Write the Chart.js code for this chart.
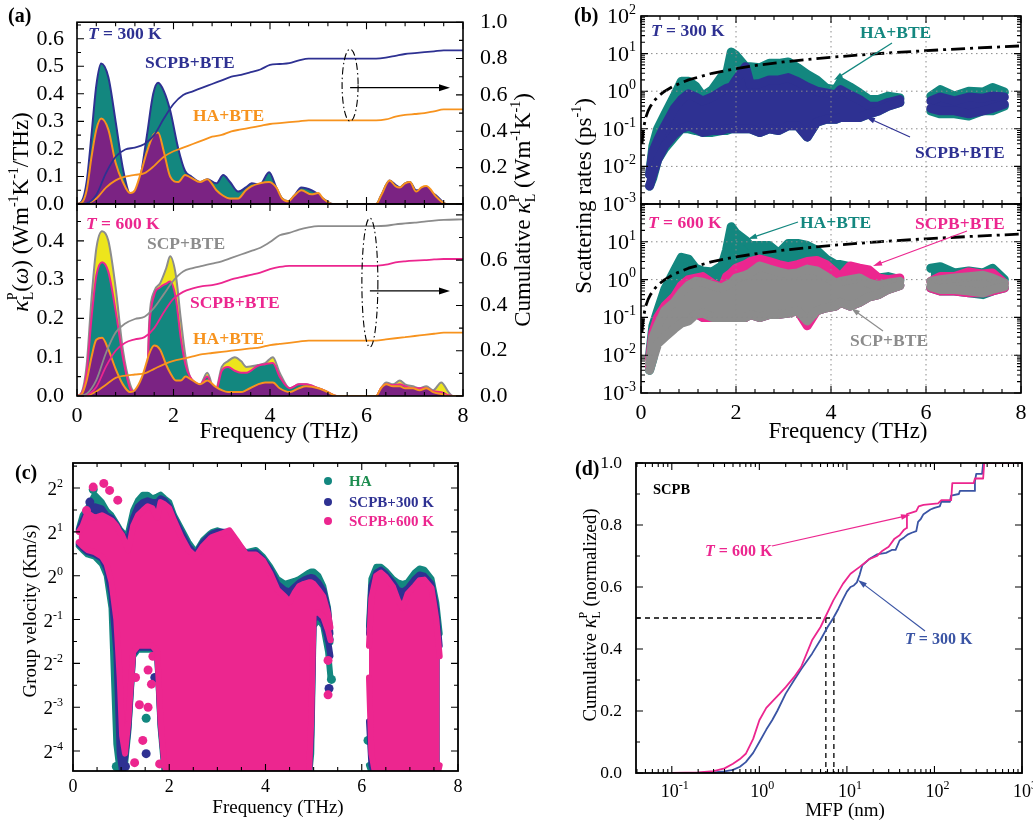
<!DOCTYPE html>
<html>
<head>
<meta charset="utf-8">
<title>Phonon transport panels</title>
<script src="https://cdn.jsdelivr.net/npm/chart.js"></script>
<style>
  body { margin: 0; background: #fff; }
  #wrap { position: relative; width: 1033px; height: 823px; overflow: hidden; }
  #wrap canvas { position: absolute; left: 0; top: 0; }
</style>
</head>
<body>
<div id="wrap">
  <canvas id="a1" width="1033" height="823"></canvas>
  <canvas id="a2" width="1033" height="823"></canvas>
  <canvas id="b1" width="1033" height="823"></canvas>
  <canvas id="b2" width="1033" height="823"></canvas>
  <canvas id="c" width="1033" height="823"></canvas>
  <canvas id="d" width="1033" height="823"></canvas>
</div>
<script>
// ---------- (a) spectral and cumulative kappa ----------
const spec300X = [0,0.1,0.2,0.3,0.4,0.5,0.65,0.8,0.95,1.1, 1.2,1.3,1.45,1.58,1.68,1.8,1.93,2.1,2.24,2.37, 2.55,2.7,2.89,3.03,3.17,3.34,3.5,3.62,3.79,3.98, 4.13,4.25,4.38,4.5,4.65,4.86,5.0,5.1,5.3,6.2, 6.3,6.48,6.6,6.69,6.8,6.9,7.03,7.14,7.24,7.45, 7.65,8];
const scpb300 = [0,0.01,0.08,0.25,0.43,0.51,0.46,0.3,0.13,0.03, 0.02,0.08,0.25,0.40,0.44,0.41,0.34,0.2,0.12,0.1, 0.08,0.09,0.075,0.105,0.08,0.045,0.06,0.075,0.07,0.115, 0.06,0.02,0.01,0.03,0.06,0.05,0.035,0.02,0,0, 0.03,0.085,0.07,0.06,0.075,0.08,0.05,0.05,0.05,0.03, 0,0];
const ha300 = [0,0.005,0.05,0.17,0.27,0.31,0.27,0.15,0.08,0.04, 0.05,0.1,0.19,0.25,0.26,0.19,0.1,0.08,0.105,0.095, 0.08,0.09,0.05,0.03,0.02,0.02,0.05,0.065,0.075,0.08, 0.06,0.02,0.01,0.03,0.05,0.035,0.04,0.02,0,0, 0.03,0.085,0.065,0.06,0.075,0.08,0.045,0.06,0.065,0.025, 0,0];

const spec600X = [0,0.1,0.2,0.3,0.4,0.52,0.65,0.8,0.95,1.1, 1.2,1.35,1.45,1.5,1.6,1.72,1.85,1.93,2.05,2.15, 2.25,2.34,2.55,2.7,2.86,3.0,3.13,3.27,3.4,3.51, 3.75,3.9,4.06,4.2,4.41,4.6,4.75,5.0,5.2,5.38, 6.2,6.3,6.41,6.55,6.69,6.8,6.96,7.1,7.24,7.38, 7.55,7.7,7.79,8];
const scp600 = [0,0.01,0.08,0.25,0.38,0.425,0.40,0.28,0.12,0.03, 0.01,0.01,0.04,0.2,0.27,0.29,0.33,0.36,0.31,0.2, 0.1,0.05,0.03,0.06,0.01,0.075,0.09,0.10,0.09,0.075, 0.08,0.085,0.10,0.06,0.02,0.03,0.03,0.02,0.01,0, 0,0.02,0.035,0.03,0.04,0.03,0.025,0.02,0.025,0.015, 0.035,0.01,0,0];
const scpb600 = [0,0.008,0.06,0.2,0.31,0.345,0.32,0.22,0.1,0.02, 0.01,0.01,0.035,0.18,0.26,0.28,0.29,0.295,0.25,0.15, 0.08,0.05,0.03,0.05,0.005,0.065,0.075,0.065,0.06,0.06, 0.078,0.082,0.085,0.05,0.02,0.03,0.03,0.02,0.01,0, 0,0.02,0.03,0.028,0.03,0.025,0.02,0.02,0.02,0.012, 0.01,0.002,0,0];
const ha600 = [0,0.005,0.04,0.1,0.145,0.15,0.12,0.07,0.03,0.01, 0.015,0.05,0.09,0.11,0.13,0.12,0.08,0.06,0.04,0.04, 0.05,0.045,0.03,0.04,0.025,0.015,0.01,0.01,0.01,0.015, 0.03,0.035,0.035,0.02,0.01,0.02,0.025,0.02,0.01,0, 0,0.02,0.03,0.025,0.025,0.02,0.02,0.015,0.02,0.01, 0.005,0,0,0];

const cumX = [0,0.2,0.4,0.6,0.8,1.0, 1.2,1.4,1.6,1.8,2.0, 2.2,2.4,2.6,2.8,3.0, 3.2,3.4,3.6,3.8,4.0, 4.2,4.4,4.6,4.8,5.0, 5.5,6.0,6.2, 6.4,6.6,6.8,7.0, 7.2,7.4,7.6, 8.0];
const cumScpb300 = [0,0.005,0.05,0.17,0.26,0.30, 0.31,0.33,0.38,0.47,0.55, 0.60,0.62,0.64,0.66,0.68, 0.70,0.71,0.725,0.74,0.765, 0.77,0.775,0.79,0.80,0.80, 0.80,0.80,0.80, 0.805,0.815,0.825,0.83, 0.835,0.84,0.845, 0.845];
const cumHa300 = [0,0.003,0.03,0.09,0.13,0.15, 0.16,0.17,0.21,0.26,0.29, 0.31,0.33,0.35,0.37,0.38, 0.40,0.41,0.42,0.43,0.44, 0.445,0.45,0.455,0.46,0.46, 0.46,0.46,0.46, 0.465,0.48,0.49,0.495, 0.50,0.51,0.52, 0.52];
const cumScp600 = [0,0.01,0.07,0.19,0.28,0.32, 0.34,0.35,0.39,0.45,0.51, 0.55,0.565,0.575,0.585,0.595, 0.61,0.625,0.64,0.655,0.68, 0.71,0.72,0.735,0.745,0.75, 0.75,0.75,0.75, 0.752,0.758,0.762,0.766, 0.77,0.775,0.778, 0.78];
const cumScpb600 = [0,0.005,0.04,0.13,0.20,0.235, 0.25,0.26,0.30,0.37,0.43, 0.46,0.475,0.485,0.49,0.50, 0.515,0.525,0.535,0.545,0.56, 0.57,0.575,0.575,0.575,0.575, 0.575,0.575,0.575, 0.58,0.59,0.595,0.598, 0.60,0.603,0.605, 0.605];
const cumHa600 = [0,0.002,0.02,0.05,0.08,0.09, 0.095,0.10,0.12,0.14,0.155, 0.165,0.175,0.185,0.19,0.195, 0.20,0.205,0.21,0.215,0.225, 0.23,0.235,0.24,0.245,0.245, 0.245,0.245,0.245, 0.25,0.255,0.26,0.265, 0.27,0.275,0.28, 0.28];

// ---------- (b) scattering rates: cloud envelopes ----------
const bX = [0.18,0.25,0.35,0.5,0.7,0.85,1.0,1.15,1.3,1.5, 1.7,1.8,1.9,2.0,2.2,2.3,2.5,2.7,2.9,3.1, 3.3,3.5,3.7,3.9,4.1,4.2,4.4,4.6,4.8,5.0, 5.2,5.45, 5.8, 6.1,6.3,6.6,6.9,7.2,7.4,7.65];
const ha300Hi = [0.006,0.035,0.1,0.24,0.74,1.85,1.85,1.36,0.74,1.1, 2.5,2.8,11,9,4.5,4.5,4.2,5.5,5.5,6, 4.2,2.8,2,1.2,1.1,1.8,1.3,0.9,0.6,0.6, 0.74,0.66, null, 0.74,1.1,0.74,1.0,0.95,1.25,0.95];
const ha300Lo = [0.003,0.005,0.015,0.03,0.06,0.1,0.1,0.09,0.08,0.08, 0.09,0.09,0.1,0.1,0.1,0.1,0.08,0.1,0.09,0.12, 0.12,0.06,0.15,0.18,0.18,0.2,0.2,0.2,0.25,0.3, 0.4,0.5, null, 0.3,0.25,0.25,0.22,0.3,0.3,0.4];
const scpb300Hi = [0.006,0.025,0.05,0.12,0.35,0.6,0.85,0.7,0.55,0.7, 1.0,1.2,1.3,2.0,4.5,1.5,1.6,2.0,2.0,2.3, 1.8,1.3,1.0,0.9,0.8,1.1,0.8,0.6,0.4,0.4, 0.5,0.6, null, 0.55,0.7,0.55,0.7,0.65,0.75,0.7];
const scpb300Lo = [0.003,0.006,0.015,0.035,0.07,0.1,0.12,0.1,0.08,0.09, 0.09,0.1,0.1,0.1,0.1,0.1,0.08,0.1,0.09,0.12, 0.12,0.06,0.15,0.18,0.18,0.2,0.2,0.2,0.25,0.3, 0.4,0.5, null, 0.35,0.3,0.3,0.25,0.3,0.35,0.45];
const ha600Hi = [0.01,0.06,0.15,0.55,1.7,3.9,3.5,2.0,1.7,1.6, 2.3,6,25,17,11,8,8,8,5,9, 9,8,6,3.5,2.5,2.5,2.2,1.8,1.5,1.1, 1.2,1.0, null, 2.0,2.2,1.5,1.7,1.5,2.0,1.0];
const ha600Lo = [0.004,0.008,0.03,0.05,0.07,0.09,0.12,0.13,0.1,0.1, 0.1,0.1,0.1,0.1,0.1,0.12,0.1,0.12,0.12,0.13, 0.15,0.08,0.15,0.18,0.2,0.25,0.2,0.25,0.35,0.4, 0.55,0.7, null, 0.6,0.5,0.5,0.45,0.4,0.5,0.6];
const scpb600Hi = [0.008,0.04,0.1,0.2,0.35,0.7,1.0,1.1,1.2,0.8, 0.6,1.2,1.5,2,2.5,3,3.5,3,2.5,2.2, 2.5,3,3.2,2.5,1.5,1.2,2.3,2.0,1.8,1.1, 1.0,1.1, null, 0.9,1.2,1.2,1.6,1.4,1.5,0.8];
const scpb600Lo = [0.005,0.01,0.03,0.05,0.07,0.09,0.12,0.13,0.1,0.1, 0.1,0.1,0.1,0.1,0.1,0.12,0.1,0.12,0.12,0.13, 0.15,0.06,0.15,0.18,0.2,0.25,0.2,0.25,0.35,0.4, 0.55,0.7, null, 0.6,0.5,0.5,0.45,0.45,0.5,0.6];
const scp600Hi = [0.006,0.03,0.06,0.15,0.25,0.45,0.7,0.9,0.85,0.7, 0.6,0.7,0.8,1.1,1.3,1.5,2.3,1.9,1.6,1.4, 1.5,1.9,1.7,1.2,0.8,0.9,1.0,1.1,0.8,0.7, 0.8,0.9, null, 0.9,1.0,1.1,1.2,1.3,1.1,0.8];
const scp600Lo = [0.004,0.008,0.02,0.03,0.05,0.07,0.08,0.12,0.13,0.1, 0.1,0.1,0.1,0.1,0.1,0.12,0.1,0.12,0.12,0.13, 0.15,0.08,0.15,0.18,0.2,0.25,0.2,0.25,0.35,0.4, 0.55,0.7, null, 0.65,0.55,0.55,0.5,0.45,0.55,0.65];
const limitX = [0.02,0.05,0.1,0.15,0.2,0.3,0.4,0.5,0.7,1.0,1.5,2.0,2.5,3.0,4.0,5.0,6.0,7.0,8.0];
const limitY = [0.04,0.1,0.2,0.3,0.4,0.6,0.8,1.0,1.4,2.0,3.0,4.0,5.0,6.0,8.0,10,12,14,16];
const decades = [1e-3,1e-2,1e-1,1,10,100];

// ---------- (c) group velocity: cloud envelopes ----------
const cX = [0.12,0.2,0.3,0.45,0.6,0.7,0.8,0.9,0.97,1.02, 1.08,1.15,1.25,1.35,1.45,1.55,1.65,1.75,1.82,1.9, 2.0,2.1,2.25,2.4,2.55,2.7,2.85,2.9,3.0,3.1, 3.25,3.4,3.6,3.8,3.95,4.1,4.25,4.4,4.5,4.6, 4.7,4.8,4.9,4.95,5.0,5.1,5.2,5.3,5.35, 5.8, 6.15,6.2,6.3,6.4,6.5,6.65,6.75,6.85,6.95,7.1, 7.2,7.3,7.45,7.55,7.62];
const haHi = [2.1,2.6,2.9,3.6,3.2,2.8,2.6,2.3,2.1,2.0, 1.9,2.0,2.8,3.3,3.6,3.6,3.4,3.5,3.6,3.4, 3.2,2.6,2.1,1.7,1.45,1.75,1.95,2.0,2.05,2.0, 1.8,1.6,1.45,1.5,1.35,1.15,0.95,0.88,0.9,0.92, 0.95,1.0,1.05,1.07,1.07,1.0,0.85,0.6,0.35, null, 0.45,0.95,1.15,1.15,1.08,0.95,0.9,0.88,0.9,1.05, 1.12,1.1,0.95,0.65,0.4];
const haLo = [1.6,1.5,1.4,1.35,1.2,1.0,0.6,0.07,0.045,0.045, 0.05,0.085,0.28,0.31,0.31,0.31,0.31,0.28,0.09,0.045, 0.04,0.04,0.04,0.04,0.04,0.04,0.04,0.04,0.04,0.04, 0.04,0.04,0.04,0.04,0.04,0.04,0.04,0.04,0.04,0.04, 0.04,0.04,0.04,0.06,0.45,0.5,0.45,0.3,0.2, null, 0.05,0.045,0.04,0.04,0.04,0.04,0.04,0.04,0.04,0.04, 0.04,0.04,0.04,0.04,0.04];
const v300Hi = [2.05,2.4,2.8,3.0,2.9,2.6,2.5,2.25,2.05,1.95, 1.8,1.8,2.5,3.0,3.2,3.3,3.2,3.2,3.4,3.3, 3.0,2.5,2.0,1.6,1.4,1.7,1.9,1.95,2.0,2.0, 2.0,1.7,1.42,1.45,1.3,1.1,0.88,0.8,0.78,0.84, 0.9,0.94,0.97,0.98,0.97,0.9,0.8,0.58,0.4, null, 0.4,0.85,1.05,1.1,1.03,0.9,0.8,0.78,0.82,0.95, 1.02,1.0,0.88,0.58,0.33];
const v300Lo = [1.65,1.55,1.45,1.4,1.3,1.1,0.75,0.3,0.06,0.045, 0.055,0.09,0.29,0.32,0.32,0.32,0.32,0.29,0.095,0.05, 0.04,0.04,0.04,0.04,0.04,0.04,0.04,0.04,0.04,0.04, 0.04,0.04,0.04,0.04,0.04,0.04,0.04,0.04,0.04,0.04, 0.04,0.04,0.04,0.08,0.5,0.53,0.48,0.36,0.28, null, 0.1,0.05,0.04,0.04,0.04,0.04,0.04,0.04,0.04,0.04, 0.04,0.04,0.04,0.04,0.04];
const v600Hi = [2.0,2.2,2.7,2.5,2.6,2.5,2.4,2.2,2.0,1.9, 1.7,1.5,2.2,2.6,2.8,3.0,2.9,2.5,3.2,3.1, 2.9,2.4,1.85,1.5,1.35,1.6,1.8,1.85,1.9,1.95, 2.05,1.75,1.4,1.4,1.27,1.04,0.8,0.72,0.66,0.76, 0.85,0.88,0.9,0.9,0.88,0.8,0.72,0.55,0.44, null, 0.33,0.7,1.0,1.05,0.98,0.84,0.68,0.6,0.75,0.85, 0.93,0.94,0.82,0.5,0.28];
const v600Lo = [1.7,1.6,1.5,1.45,1.35,1.2,0.9,0.5,0.2,0.08, 0.06,0.1,0.3,0.33,0.33,0.33,0.33,0.3,0.1,0.05, 0.04,0.04,0.04,0.04,0.04,0.04,0.04,0.04,0.04,0.04, 0.04,0.04,0.04,0.04,0.04,0.04,0.04,0.04,0.04,0.04, 0.04,0.04,0.04,0.1,0.55,0.56,0.52,0.42,0.36, null, 0.2,0.06,0.04,0.04,0.04,0.04,0.04,0.04,0.04,0.04, 0.04,0.04,0.04,0.04,0.05];
const haDotX = [0.42,0.9,1.52,5.37,6.13,6.7];
const haDotY = [3.9,0.049,0.105,0.194,0.074,0.06];
const v300DotX = [0.35,1.09,1.52,4.79,4.79,5.32,5.32,1.7];
const v300DotY = [3.2,0.049,0.06,0.082,0.06,0.168,0.366,0.2];
const v600DotX = [0.28,0.42,0.64,0.76,0.93,1.28,1.45,1.56,1.56,1.63,1.66,1.8,5.3,5.3,3.22,1.3,1.38];
const v600DotY = [2.8,4.06,4.3,3.85,3.3,0.052,0.074,0.225,0.125,0.18,0.28,0.051,0.152,0.262,1.96,0.2,0.13];
const octaves = [0.0625,0.125,0.25,0.5,1,2,4];

// ---------- (d) cumulative kappa vs MFP ----------
const mfp300X = [0.1,0.2,0.3,0.4,0.5,0.6,0.7,0.85,1.0,1.2, 1.4,1.6,2.0,2.5,3.0,4.0,5.0,6.0,7.0,8.0, 9.0,10,11,12,13,14,15,18,22,28, 33,36,40,45,50,55,62,65,70,75, 90,100,115,120,150,155,190,195,285,290, 300,350,360,1000];
const mfp300Y = [0,0.0005,0.002,0.005,0.01,0.02,0.035,0.065,0.1,0.14, 0.17,0.2,0.256,0.30,0.335,0.385,0.43,0.47,0.50,0.53, 0.56,0.585,0.60,0.605,0.615,0.64,0.67,0.69,0.705,0.71, 0.72,0.72,0.75,0.76,0.77,0.775,0.78,0.81,0.82,0.835, 0.85,0.855,0.86,0.875,0.875,0.895,0.9,0.91,0.91,0.94, 0.965,0.965,1.0,1.0];
const mfp600X = [0.1,0.2,0.3,0.4,0.5,0.6,0.7,0.85,1.0,1.2, 1.4,1.7,2.0,2.5,3.0,4.0,5.0,5.6,7.0,9.0, 11,14,18,22,25,30,35,40,45,48, 48.5,55,62,66,75,110,120,155,160,280, 290,360,370,1000];
const mfp600Y = [0,0.002,0.006,0.015,0.03,0.045,0.062,0.11,0.17,0.21, 0.23,0.255,0.277,0.31,0.342,0.428,0.471,0.5,0.557,0.61, 0.643,0.665,0.69,0.70,0.715,0.73,0.756,0.767,0.785,0.79, 0.835,0.84,0.845,0.86,0.865,0.87,0.88,0.88,0.935,0.935, 0.95,0.95,1.0,1.0];
const halfX = [0.039,7.1,7.1];
const halfY = [0.5,0.5,0];
const half600X = [5.75,5.75];
const half600Y = [0.5,0];
const mfpDecades = [0.1,1,10,100,1000];

// ---------- style ----------
const FONT = "'Liberation Serif', 'Times New Roman', serif";
Chart.defaults.font.family = FONT;
Chart.defaults.color = '#000';
const NAVY = '#2e3192', TEAL = '#13877f', PURPLE = '#7b2383', ORANGE = '#f7931e',
      YELLOW = '#ede51c', GRAY = '#8c8c8c', PINK = '#ec268f', BLUE = '#3a54a4', GREEN = '#1d8d50';

const xy = (xs, ys) => xs.map((x, i) => ({ x: x, y: ys[i] }));
const seq = (a, b, d) => { const r = []; for (let i = 0; a + i * d <= b + 1e-9; i++) r.push(+(a + i * d).toFixed(6)); return r; };
const logMinor = (e0, e1) => { const r = []; for (let e = e0; e < e1; e++) for (let k = 2; k < 10; k++) r.push(k * Math.pow(10, e)); return r; };
const fnt = (s, f) => (f && f.includes('i') ? 'italic ' : '') + (f && f.includes('b') ? 'bold ' : '') + s + 'px ' + FONT;

// list of [text, size, flags, dy, noAdvance]
function runs(ctx, list, x, y, align, rot, color) {
  ctx.save();
  ctx.translate(x, y);
  if (rot) ctx.rotate(rot);
  ctx.textBaseline = 'alphabetic';
  ctx.textAlign = 'left';
  let w = 0;
  const ws = list.map(r => { ctx.font = fnt(r[1], r[2]); const m = ctx.measureText(r[0]).width; if (!r[4]) w += m; return m; });
  let cx = align === 'center' ? -w / 2 : align === 'right' ? -w : 0;
  list.forEach((r, i) => {
    ctx.font = fnt(r[1], r[2]);
    ctx.fillStyle = color || '#000';
    ctx.fillText(r[0], cx, r[3] || 0);
    if (!r[4]) cx += ws[i];
  });
  ctx.restore();
}
const bold = (ctx, s, x, y, size, color) => runs(ctx, [[s, size, 'b']], x, y, 'left', 0, color);
const tLabel = (ctx, temp, x, y, size, color) => runs(ctx, [['T', size, 'bi'], [' = ' + temp, size, 'b']], x, y, 'left', 0, color);
const pow = (ctx, base, e, x, y, s1, s2, align) => runs(ctx, [[base, s1, ''], [e, s2, '', -s1 * 0.42]], x, y, align);

function arrow(ctx, x1, y1, x2, y2, color, lw, h) {
  const a = Math.atan2(y2 - y1, x2 - x1);
  ctx.save();
  ctx.strokeStyle = color; ctx.fillStyle = color; ctx.lineWidth = lw;
  ctx.beginPath(); ctx.moveTo(x1, y1); ctx.lineTo(x2 - Math.cos(a) * h * 0.8, y2 - Math.sin(a) * h * 0.8); ctx.stroke();
  ctx.beginPath();
  ctx.moveTo(x2, y2);
  ctx.lineTo(x2 - h * Math.cos(a) + h * 0.32 * Math.sin(a), y2 - h * Math.sin(a) - h * 0.32 * Math.cos(a));
  ctx.lineTo(x2 - h * Math.cos(a) - h * 0.32 * Math.sin(a), y2 - h * Math.sin(a) + h * 0.32 * Math.cos(a));
  ctx.closePath(); ctx.fill();
  ctx.restore();
}

// frame with inward ticks on all four sides
function frame(chart, xs, yl, yr, lw) {
  const ctx = chart.ctx, a = chart.chartArea;
  ctx.save();
  ctx.strokeStyle = '#000';
  ctx.lineWidth = 1.1;
  ctx.beginPath();
  const tk = (spec, side) => {
    const sc = spec[0];
    [[spec[1], 7], [spec[2], 4]].forEach(([vals, len]) => vals.forEach(v => {
      const p = sc.getPixelForValue(v);
      if (side === 'x') {
        if (p < a.left - 0.5 || p > a.right + 0.5) return;
        ctx.moveTo(p, a.bottom); ctx.lineTo(p, a.bottom - len);
        ctx.moveTo(p, a.top); ctx.lineTo(p, a.top + len);
      } else {
        if (p < a.top - 0.5 || p > a.bottom + 0.5) return;
        if (side !== 'r') { ctx.moveTo(a.left, p); ctx.lineTo(a.left + len, p); }
        if (side !== 'l') { ctx.moveTo(a.right, p); ctx.lineTo(a.right - len, p); }
      }
    }));
  };
  tk(xs, 'x');
  if (yr) { tk(yl, 'l'); tk(yr, 'r'); } else tk(yl, 'lr');
  ctx.stroke();
  ctx.lineWidth = lw || 1.6;
  ctx.strokeRect(a.left, a.top, a.right - a.left, a.bottom - a.top);
  ctx.restore();
}

function dotGrid(chart, xv, yv) {
  const ctx = chart.ctx, a = chart.chartArea, s = chart.scales;
  ctx.save();
  ctx.setLineDash([1.5, 3.5]);
  ctx.strokeStyle = '#8a8a8a';
  ctx.lineWidth = 1;
  ctx.beginPath();
  xv.forEach(v => { const p = s.x.getPixelForValue(v); ctx.moveTo(p, a.top); ctx.lineTo(p, a.bottom); });
  yv.forEach(v => { const p = s.y.getPixelForValue(v); ctx.moveTo(a.left, p); ctx.lineTo(a.right, p); });
  ctx.stroke();
  ctx.restore();
}

function ring(chart, xv, y0, y1, sy, xEnd, yArrow) {
  const ctx = chart.ctx, px = chart.scales.x.getPixelForValue(xv);
  const p0 = sy.getPixelForValue(y0), p1 = sy.getPixelForValue(y1);
  ctx.save();
  ctx.setLineDash([7, 3, 1.5, 3]);
  ctx.lineWidth = 1.1;
  ctx.strokeStyle = '#000';
  ctx.beginPath();
  ctx.ellipse(px, (p0 + p1) / 2, 8, Math.abs(p1 - p0) / 2, 0, 0, 2 * Math.PI);
  ctx.stroke();
  ctx.restore();
  const pa = sy.getPixelForValue(yArrow);
  arrow(ctx, px, pa, chart.scales.x.getPixelForValue(xEnd), pa, '#000', 1.2, 11);
}

// axes get a fixed box size so the plot areas line up exactly
const axis = (extra, size) => Object.assign({
  grid: { display: false }, border: { display: false },
  afterFit: s => { if (s.isHorizontal()) s.height = size; else s.width = size; }
}, extra);
// sides: sizes of the axis boxes on left / right / bottom
function baseOpts(area, scales, sides) {
  return {
    responsive: false, animation: false, events: [], devicePixelRatio: 1,
    layout: { padding: { left: area[0] - (sides.left || 0), top: area[1], right: 1033 - area[2] - (sides.right || 0), bottom: 823 - area[3] - (sides.bottom || 0) } },
    plugins: { legend: { display: false }, tooltip: { enabled: false } },
    elements: { point: { radius: 0 }, line: { borderJoinStyle: 'round', borderCapStyle: 'round' } },
    scales: scales
  };
}
const fix1 = v => v.toFixed(1);

function spec(xs, ys, line, fillColor, order, axisId) {
  return { data: xy(xs, ys), yAxisID: axisId || 'y', borderColor: line, backgroundColor: fillColor || line,
           fill: fillColor ? 'origin' : false, borderWidth: fillColor ? 2 : 1.8, cubicInterpolationMode: 'monotone', order: order, clip: 0 };
}
function band(xs, lo, hi, color, w, order) {
  const common = { borderColor: color, backgroundColor: color, borderWidth: w, pointRadius: 0, order: order, clip: 0, spanGaps: false };
  return [Object.assign({ data: xy(xs, lo), fill: false }, common), Object.assign({ data: xy(xs, hi), fill: '-1' }, common)];
}
function dots(xs, ys, color, order) {
  return { data: xy(xs, ys), showLine: false, pointRadius: 4.5, pointBackgroundColor: color, pointBorderWidth: 0, order: order, clip: 0 };
}

// ---------- (a) top: 300 K ----------
new Chart(document.getElementById('a1'), {
  type: 'line',
  data: { datasets: [
    spec(cumX, cumScpb300, NAVY, null, 1, 'y2'),
    spec(cumX, cumHa300, ORANGE, null, 1, 'y2'),
    spec(spec300X, ha300, ORANGE, PURPLE, 2),
    spec(spec300X, scpb300, NAVY, TEAL, 3)
  ] },
  options: baseOpts([77, 15, 463, 204], {
    x: axis({ type: 'linear', min: 0, max: 8, ticks: { display: false } }, 0),
    y: axis({ min: 0, max: 0.66, ticks: { stepSize: 0.1, includeBounds: false, padding: 5, autoSkip: false, font: { size: 22 }, callback: fix1 } }, 60),
    y2: axis({ position: 'right', min: 0, max: 1.0, ticks: { stepSize: 0.2, padding: 9, autoSkip: false, font: { size: 22 }, callback: fix1 } }, 60)
  }, { left: 60, right: 60 }),
  plugins: [{ id: 'decoA1', afterDraw(c) {
    const ctx = c.ctx, s = c.scales;
    frame(c, [s.x, seq(0, 8, 2), seq(0, 8, 0.4)], [s.y, seq(0, 0.6, 0.1), seq(0, 0.65, 0.05)], [s.y2, seq(0, 1, 0.2), seq(0, 1, 0.1)]);
    ring(c, 5.66, 0.455, 0.852, s.y2, 7.73, 0.64);
    tLabel(ctx, '300 K', 88, 39, 17.5, NAVY);
    bold(ctx, 'SCPB+BTE', 145, 68, 17.5, NAVY);
    bold(ctx, 'HA+BTE', 193, 121, 17.5, ORANGE);
    bold(ctx, '(a)', 8, 22, 20, '#000');
    runs(ctx, [['κ', 24, 'i'], ['P', 14, '', -11, true], ['L', 14, '', 5], ['(', 23, ''], ['ω', 23, 'i'], [') (Wm', 23, ''], ['-1', 14, '', -10], ['K', 23, ''], ['-1', 14, '', -10], ['/THz)', 23, '']], 28, 212, 'center', -Math.PI / 2);
    runs(ctx, [['Cumulative ', 23, ''], ['κ', 24, 'i'], ['P', 14, '', -11, true], ['L', 14, '', 5], [' (Wm', 23, ''], ['-1', 14, '', -10], ['K', 23, ''], ['-1', 14, '', -10], [')', 23, '']], 530, 210, 'center', -Math.PI / 2);
  } }]
});

// ---------- (a) bottom: 600 K ----------
new Chart(document.getElementById('a2'), {
  type: 'line',
  data: { datasets: [
    spec(cumX, cumScp600, GRAY, null, 1, 'y2'),
    spec(cumX, cumScpb600, PINK, null, 1, 'y2'),
    spec(cumX, cumHa600, ORANGE, null, 1, 'y2'),
    spec(spec600X, ha600, ORANGE, PURPLE, 2),
    spec(spec600X, scpb600, PINK, TEAL, 3),
    spec(spec600X, scp600, GRAY, YELLOW, 4)
  ] },
  options: baseOpts([77, 204, 463, 396], {
    x: axis({ type: 'linear', min: 0, max: 8, ticks: { stepSize: 2, padding: -1, font: { size: 22 } } }, 36),
    y: axis({ min: 0, max: 0.495, ticks: { stepSize: 0.1, includeBounds: false, padding: 5, autoSkip: false, font: { size: 22 }, callback: fix1 } }, 60),
    y2: axis({ position: 'right', min: 0, max: 0.848, ticks: { stepSize: 0.2, includeBounds: false, padding: 9, autoSkip: false, font: { size: 22 }, callback: v => v > 0.7 ? null : fix1(v) } }, 60)
  }, { left: 60, right: 60, bottom: 36 }),
  plugins: [{ id: 'decoA2', afterDraw(c) {
    const ctx = c.ctx, s = c.scales;
    frame(c, [s.x, seq(0, 8, 2), seq(0, 8, 0.4)], [s.y, seq(0, 0.4, 0.1), seq(0, 0.45, 0.05)], [s.y2, seq(0, 0.8, 0.2), seq(0, 0.8, 0.1)]);
    ring(c, 6.07, 0.216, 0.786, s.y2, 7.73, 0.464);
    tLabel(ctx, '600 K', 86, 229, 17.5, PINK);
    bold(ctx, 'SCP+BTE', 147, 249, 17.5, GRAY);
    bold(ctx, 'SCPB+BTE', 190, 308, 17.5, PINK);
    bold(ctx, 'HA+BTE', 193, 344, 17.5, ORANGE);
    runs(ctx, [['Frequency (THz)', 23, '']], 279, 438, 'center');
  } }]
});

// ---------- (b) top: 300 K ----------
new Chart(document.getElementById('b1'), {
  type: 'line',
  data: { datasets: [
    { data: xy(limitX, limitY), borderColor: '#000', borderWidth: 2.8, borderDash: [14, 5, 3, 5], borderCapStyle: 'butt', order: 0, clip: 0 },
    ...band(bX, scpb300Lo, scpb300Hi, NAVY, 9, 1),
    ...band(bX, ha300Lo, ha300Hi, TEAL, 9, 2)
  ] },
  options: baseOpts([641, 16, 1021, 204], {
    x: axis({ type: 'linear', min: 0, max: 8, ticks: { display: false } }, 0),
    y: axis({ type: 'logarithmic', min: 1e-3, max: 1e2, ticks: { display: false } }, 0)
  }, {}),
  plugins: [{ id: 'decoB1', afterDraw(c) {
    const ctx = c.ctx, s = c.scales, a = c.chartArea;
    dotGrid(c, [2, 4, 6], [1e-2, 1e-1, 1, 10]);
    frame(c, [s.x, seq(0, 8, 2), seq(0, 8, 0.4)], [s.y, decades, logMinor(-3, 2)]);
    decades.forEach(v => pow(ctx, '10', String(Math.round(Math.log10(v))), a.left - 5, s.y.getPixelForValue(v) + 7, 22, 14, 'right'));
    tLabel(ctx, '300 K', 651, 36, 17.5, NAVY);
    bold(ctx, 'HA+BTE', 860, 38, 17.5, TEAL);
    arrow(ctx, 892, 43, 834, 80, TEAL, 1.2, 9);
    bold(ctx, 'SCPB+BTE', 915, 158, 17.5, NAVY);
    arrow(ctx, 910, 137, 866, 117, NAVY, 1.2, 9);
    bold(ctx, '(b)', 574, 22, 20, '#000');
    runs(ctx, [['Scattering rates (ps', 23, ''], ['-1', 14, '', -10], [')', 23, '']], 591, 196, 'center', -Math.PI / 2);
  } }]
});

// ---------- (b) bottom: 600 K ----------
new Chart(document.getElementById('b2'), {
  type: 'line',
  data: { datasets: [
    { data: xy(limitX, limitY), borderColor: '#000', borderWidth: 2.8, borderDash: [14, 5, 3, 5], borderCapStyle: 'butt', order: 0, clip: 0 },
    ...band(bX, scp600Lo, scp600Hi, GRAY, 9, 1),
    ...band(bX, scpb600Lo, scpb600Hi, PINK, 9, 2),
    ...band(bX, ha600Lo, ha600Hi, TEAL, 9, 3)
  ] },
  options: baseOpts([641, 204, 1021, 393], {
    x: axis({ type: 'linear', min: 0, max: 8, ticks: { stepSize: 2, padding: -1, font: { size: 22 } } }, 36),
    y: axis({ type: 'logarithmic', min: 1e-3, max: 1e2, ticks: { display: false } }, 0)
  }, { bottom: 36 }),
  plugins: [{ id: 'decoB2', afterDraw(c) {
    const ctx = c.ctx, s = c.scales, a = c.chartArea;
    dotGrid(c, [2, 4, 6], [1e-2, 1e-1, 1, 10]);
    frame(c, [s.x, seq(0, 8, 2), seq(0, 8, 0.4)], [s.y, decades, logMinor(-3, 2)]);
    decades.slice(0, 5).forEach(v => pow(ctx, '10', String(Math.round(Math.log10(v))), a.left - 5, s.y.getPixelForValue(v) + 7, 22, 14, 'right'));
    tLabel(ctx, '600 K', 648, 228, 17.5, PINK);
    bold(ctx, 'HA+BTE', 800, 228, 17.5, TEAL);
    arrow(ctx, 798, 222, 748, 239, TEAL, 1.2, 9);
    bold(ctx, 'SCPB+BTE', 915, 229, 17.5, PINK);
    arrow(ctx, 967, 231, 873, 266, PINK, 1.2, 9);
    bold(ctx, 'SCP+BTE', 850, 346, 17.5, GRAY);
    arrow(ctx, 883, 331, 851, 308, GRAY, 1.2, 9);
    runs(ctx, [['Frequency (THz)', 23, '']], 848, 438, 'center');
  } }]
});

// ---------- (c) group velocity ----------
new Chart(document.getElementById('c'), {
  type: 'line',
  data: { datasets: [
    ...band(cX, v600Lo, v600Hi, PINK, 6, 1),
    dots(v600DotX, v600DotY, PINK, 1),
    ...band(cX, v300Lo, v300Hi, NAVY, 6, 2),
    dots(v300DotX, v300DotY, NAVY, 2),
    ...band(cX, haLo, haHi, TEAL, 6, 3),
    dots(haDotX, haDotY, TEAL, 3)
  ] },
  options: baseOpts([73, 463, 458, 771], {
    x: axis({ type: 'linear', min: 0, max: 8, ticks: { stepSize: 2, padding: -3, font: { size: 18 } } }, 32),
    y: axis({ type: 'logarithmic', min: 0.0456, max: 5.94, ticks: { display: false } }, 0)
  }, { bottom: 32 }),
  plugins: [{ id: 'decoC', afterDraw(c) {
    const ctx = c.ctx, s = c.scales, a = c.chartArea;
    frame(c, [s.x, seq(0, 8, 2), seq(0, 8, 0.5)], [s.y, octaves, octaves.map(v => v * Math.SQRT2)], null, 1.8);
    octaves.forEach(v => pow(ctx, '2', String(Math.round(Math.log2(v))), a.left - 10, s.y.getPixelForValue(v) + 7, 19, 12, 'right'));
    [[TEAL, GREEN, 'HA', 481], [NAVY, NAVY, 'SCPB+300 K', 502], [PINK, PINK, 'SCPB+600 K', 521]].forEach(([dc, tc, t, y]) => {
      ctx.beginPath(); ctx.fillStyle = dc; ctx.arc(328, y, 4, 0, 2 * Math.PI); ctx.fill();
      bold(ctx, t, 349, y + 5, 15, tc);
    });
    bold(ctx, '(c)', 15, 479, 20, '#000');
    runs(ctx, [['Frequency (THz)', 19, '']], 278, 813, 'center');
    runs(ctx, [['Group velocity (Km/s)', 19, '']], 36, 611, 'center', -Math.PI / 2);
  } }]
});

// ---------- (d) cumulative vs MFP ----------
new Chart(document.getElementById('d'), {
  type: 'line',
  data: { datasets: [
    { data: xy(halfX, halfY), borderColor: '#000', borderWidth: 1.3, borderDash: [5, 4], borderCapStyle: 'butt', order: 3 },
    { data: xy(half600X, half600Y), borderColor: '#000', borderWidth: 1.3, borderDash: [5, 4], borderCapStyle: 'butt', order: 3 },
    { data: xy(mfp300X, mfp300Y), borderColor: BLUE, borderWidth: 1.8, order: 2, clip: 0 },
    { data: xy(mfp600X, mfp600Y), borderColor: PINK, borderWidth: 1.8, order: 1, clip: 0 }
  ] },
  options: baseOpts([636, 463, 1022, 773], {
    x: axis({ type: 'logarithmic', min: 0.039, max: 1000, ticks: { display: false } }, 0),
    y: axis({ min: 0, max: 1, ticks: { stepSize: 0.2, padding: 6, autoSkip: false, font: { size: 17.5 }, callback: fix1 } }, 50)
  }, { left: 50 }),
  plugins: [{ id: 'decoD', afterDraw(c) {
    const ctx = c.ctx, s = c.scales, a = c.chartArea;
    frame(c, [s.x, mfpDecades, logMinor(-2, 3)], [s.y, seq(0, 1, 0.2), seq(0, 1, 0.1)], null, 1.8);
    mfpDecades.forEach(v => pow(ctx, '10', String(Math.round(Math.log10(v))), s.x.getPixelForValue(v) + 3, a.bottom + 24, 18, 12, 'center'));
    bold(ctx, 'SCPB', 653, 494, 14.5, '#000');
    tLabel(ctx, '600 K', 705, 556, 16, PINK);
    arrow(ctx, 772, 546, 910, 515, PINK, 1.2, 9);
    tLabel(ctx, '300 K', 905, 644, 16, BLUE);
    arrow(ctx, 925, 631, 858, 580, BLUE, 1.2, 9);
    bold(ctx, '(d)', 575, 475, 20, '#000');
    runs(ctx, [['MFP (nm)', 19, '']], 845, 816, 'center');
    runs(ctx, [['Cumulative ', 19, ''], ['κ', 20, 'i'], ['P', 12, '', -9, true], ['L', 12, '', 4], [' (normalized)', 19, '']], 596, 615, 'center', -Math.PI / 2);
  } }]
});
</script>
</body>
</html>
